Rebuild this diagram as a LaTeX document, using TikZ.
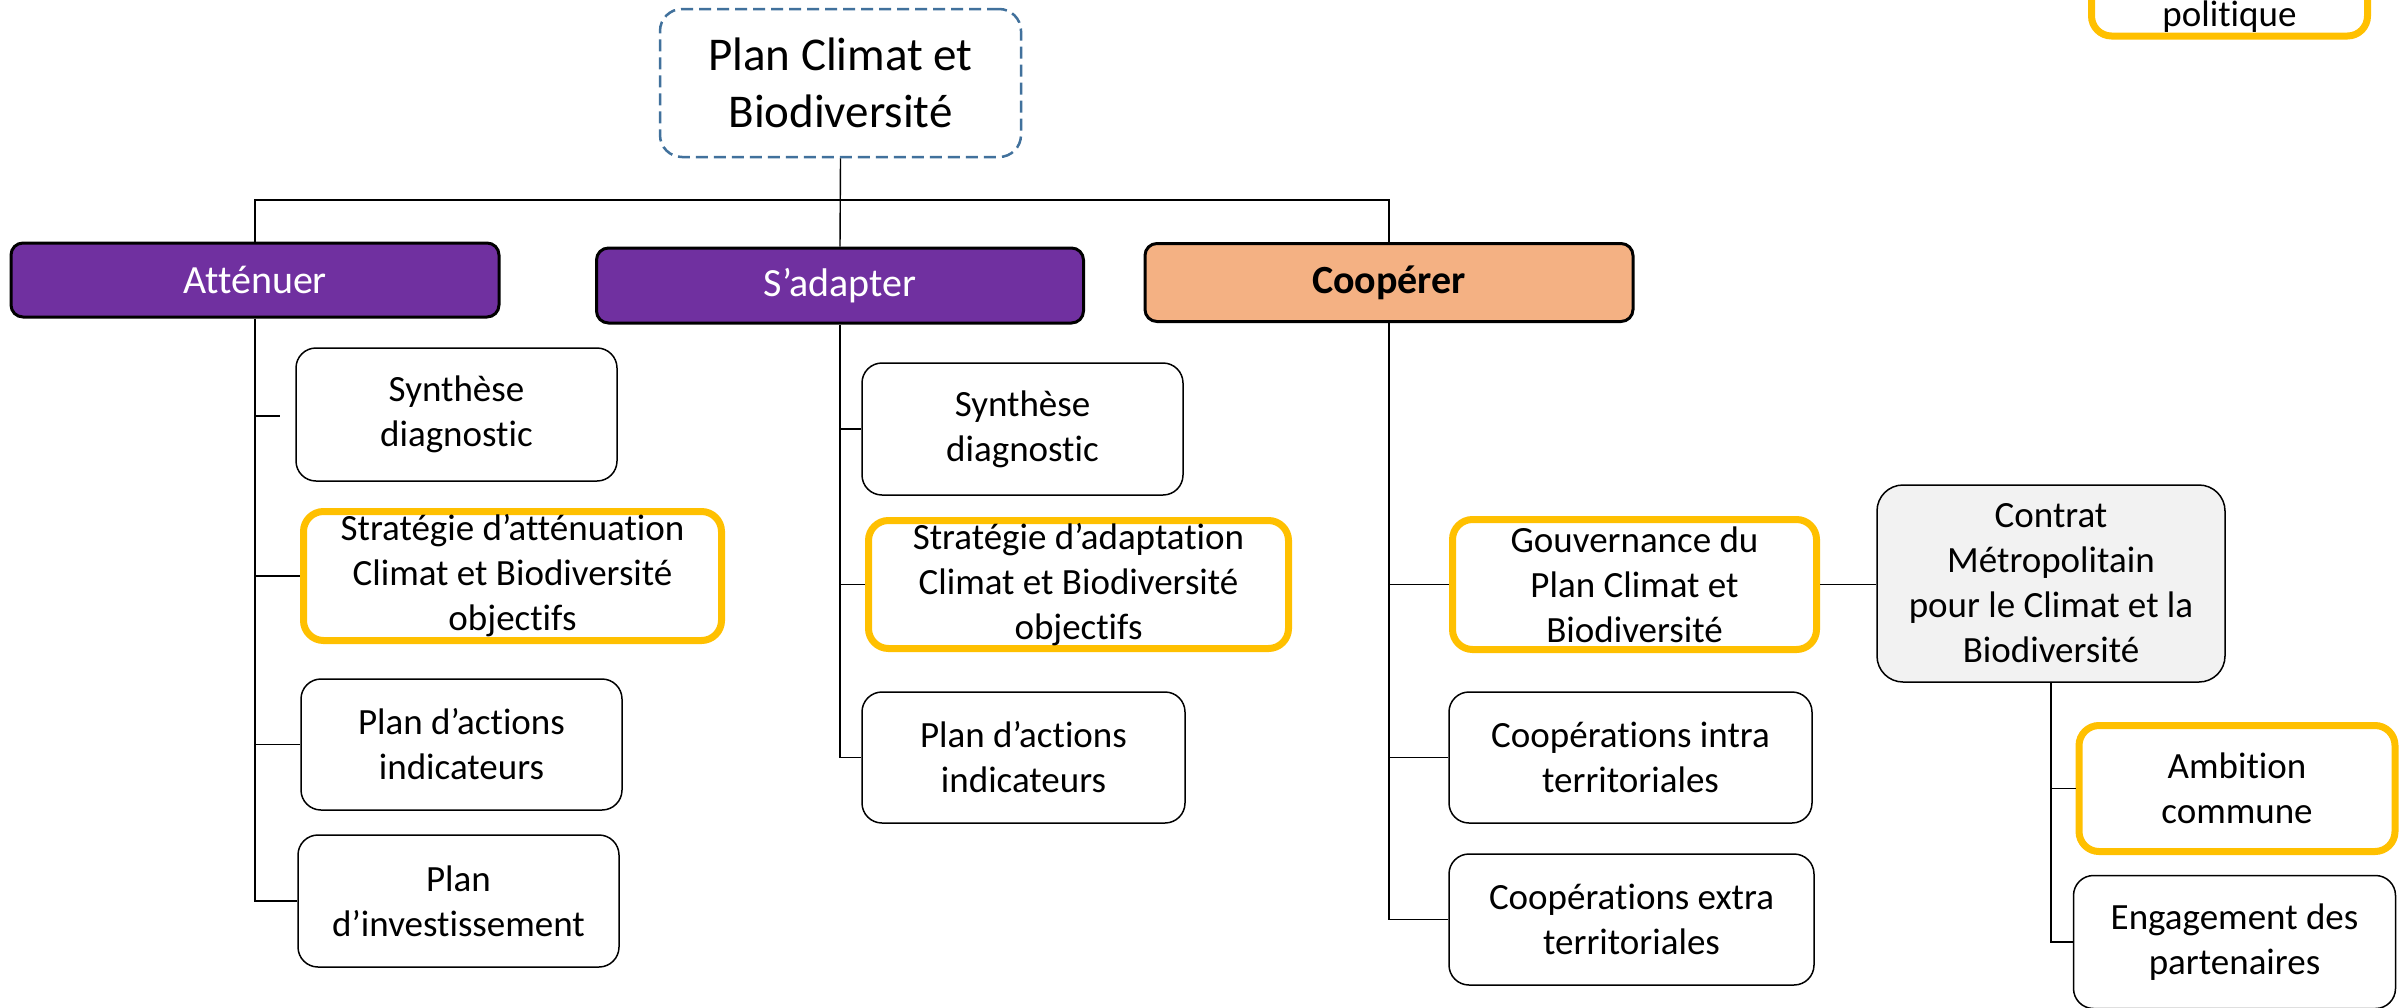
\documentclass[tikz,border=0pt]{standalone}
\usepackage{fontspec}
\setmainfont{Carlito}[RawFeature={-liga;-rlig;-clig;-calt;-dlig}]
\definecolor{purp}{HTML}{7030A0}
\definecolor{peach}{HTML}{F4B183}
\definecolor{gold}{HTML}{FFC000}
\definecolor{steel}{HTML}{41719C}
\definecolor{lgrey}{HTML}{F2F2F2}
\tikzset{
  txt/.style={font=\fontsize{37}{45}\selectfont, align=center, inner sep=0pt},
  plainbox/.style={txt, draw=black, line width=1.5pt, rounded corners=20pt, fill=white},
  goldbox/.style={txt, draw=gold, line width=7pt, rounded corners=20pt, fill=white},
  greybox/.style={txt, draw=black, line width=1.5pt, rounded corners=26pt, fill=lgrey},
  headbox/.style={font=\fontsize{40}{48}\selectfont, align=center, inner sep=0pt, draw=black, line width=3pt, rounded corners=12pt},
  rootbox/.style={font=\fontsize{47}{57}\selectfont, align=center, inner sep=0pt, draw=steel, line width=2.5pt, dash pattern=on 12pt off 6pt, rounded corners=22pt, fill=white},
  conn/.style={draw=black, line width=1.4pt}
}
\begin{document}
\begin{tikzpicture}[x=1pt,y=-1pt]
\useasboundingbox (0,0) rectangle (2407,1007);
\fill[white] (0,0) rectangle (2407,1007);

% root
\node[rootbox, minimum width=361, minimum height=148] (root) at (840.5,83) {Plan Climat et\\Biodiversité};

% heads
\node[headbox, fill=purp, text=white, minimum width=488, minimum height=74] (att) at (255,280) {Atténuer};
\node[headbox, fill=purp, text=white, minimum width=487, minimum height=75] (adp) at (840,285.5) {S’adapter};
\node[headbox, fill=peach, minimum width=488, minimum height=78] (coop) at (1389,282.5) {\bfseries Coopérer};

% level connectors
\coordinate (hub) at (840,200);
\draw[conn] (root.south) -- (adp.north);
\draw[conn] (att.north) |- (hub) -| (coop.north);

% Attenuer children
\node[plainbox, minimum width=321, minimum height=133] (s1) at (456.5,414.5) {Synthèse\\diagnostic};
\node[goldbox, minimum width=418, minimum height=129] (s2) at (512.5,576) {Stratégie d’atténuation\\Climat et Biodiversité\\objectifs};
\node[plainbox, minimum width=321, minimum height=131] (s3) at (461.5,744.5) {Plan d’actions\\indicateurs};
\node[plainbox, minimum width=321, minimum height=132] (s4) at (458.5,901) {Plan\\d’investissement};
\coordinate (s1end) at (280,416);
\draw[conn] (att.south) |- (s4.west);
\draw[conn] (att.south |- s1end) -- (s1end);
\draw[conn] (att.south |- s2.west) -- (s2.west);
\draw[conn] (att.south |- s3.west) -- (s3.west);

% S'adapter children
\node[plainbox, minimum width=321, minimum height=132] (a1) at (1022.5,429) {Synthèse\\diagnostic};
\node[goldbox, minimum width=420, minimum height=128] (a2) at (1078.5,584.5) {Stratégie d’adaptation\\Climat et Biodiversité\\objectifs};
\node[plainbox, minimum width=323, minimum height=131] (a3) at (1023.5,757.5) {Plan d’actions\\indicateurs};
\draw[conn] (adp.south) |- (a3.west);
\draw[conn] (adp.south |- a1.west) -- (a1.west);
\draw[conn] (adp.south |- a2.west) -- (a2.west);

% Cooperer children
\node[goldbox, minimum width=364, minimum height=130] (c1) at (1634.5,584.5) {Gouvernance du\\Plan Climat et\\Biodiversité};
\node[plainbox, minimum width=363, minimum height=131] (c2) at (1630.5,757.5) {Coopérations intra\\territoriales};
\node[plainbox, minimum width=365, minimum height=131] (c3) at (1631.5,919.5) {Coopérations extra\\territoriales};
\draw[conn] (coop.south) |- (c3.west);
\draw[conn] (coop.south |- c1.west) -- (c1.west);
\draw[conn] (coop.south |- c2.west) -- (c2.west);

% Contrat
\node[greybox, minimum width=348, minimum height=197] (ctr) at (2051,583.5) {Contrat\\Métropolitain\\pour le Climat et la\\Biodiversité};
\draw[conn] (c1.east) -- (c1.east -| ctr.west);
\node[goldbox, minimum width=316, minimum height=126] (amb) at (2237,788.5) {Ambition\\commune};
\node[plainbox, minimum width=322, minimum height=133] (eng) at (2234.5,942) {Engagement des\\partenaires};
\draw[conn] (ctr.south) |- (eng.west);
\draw[conn] (ctr.south |- amb.west) -- (amb.west);

% partially visible box at top right
\node[goldbox, minimum width=276, minimum height=126] (polbox) at (2229.5,-27) {};
\node[txt, anchor=base] (pol) at (2229.5,26) {politique};
\end{tikzpicture}
\end{document}
